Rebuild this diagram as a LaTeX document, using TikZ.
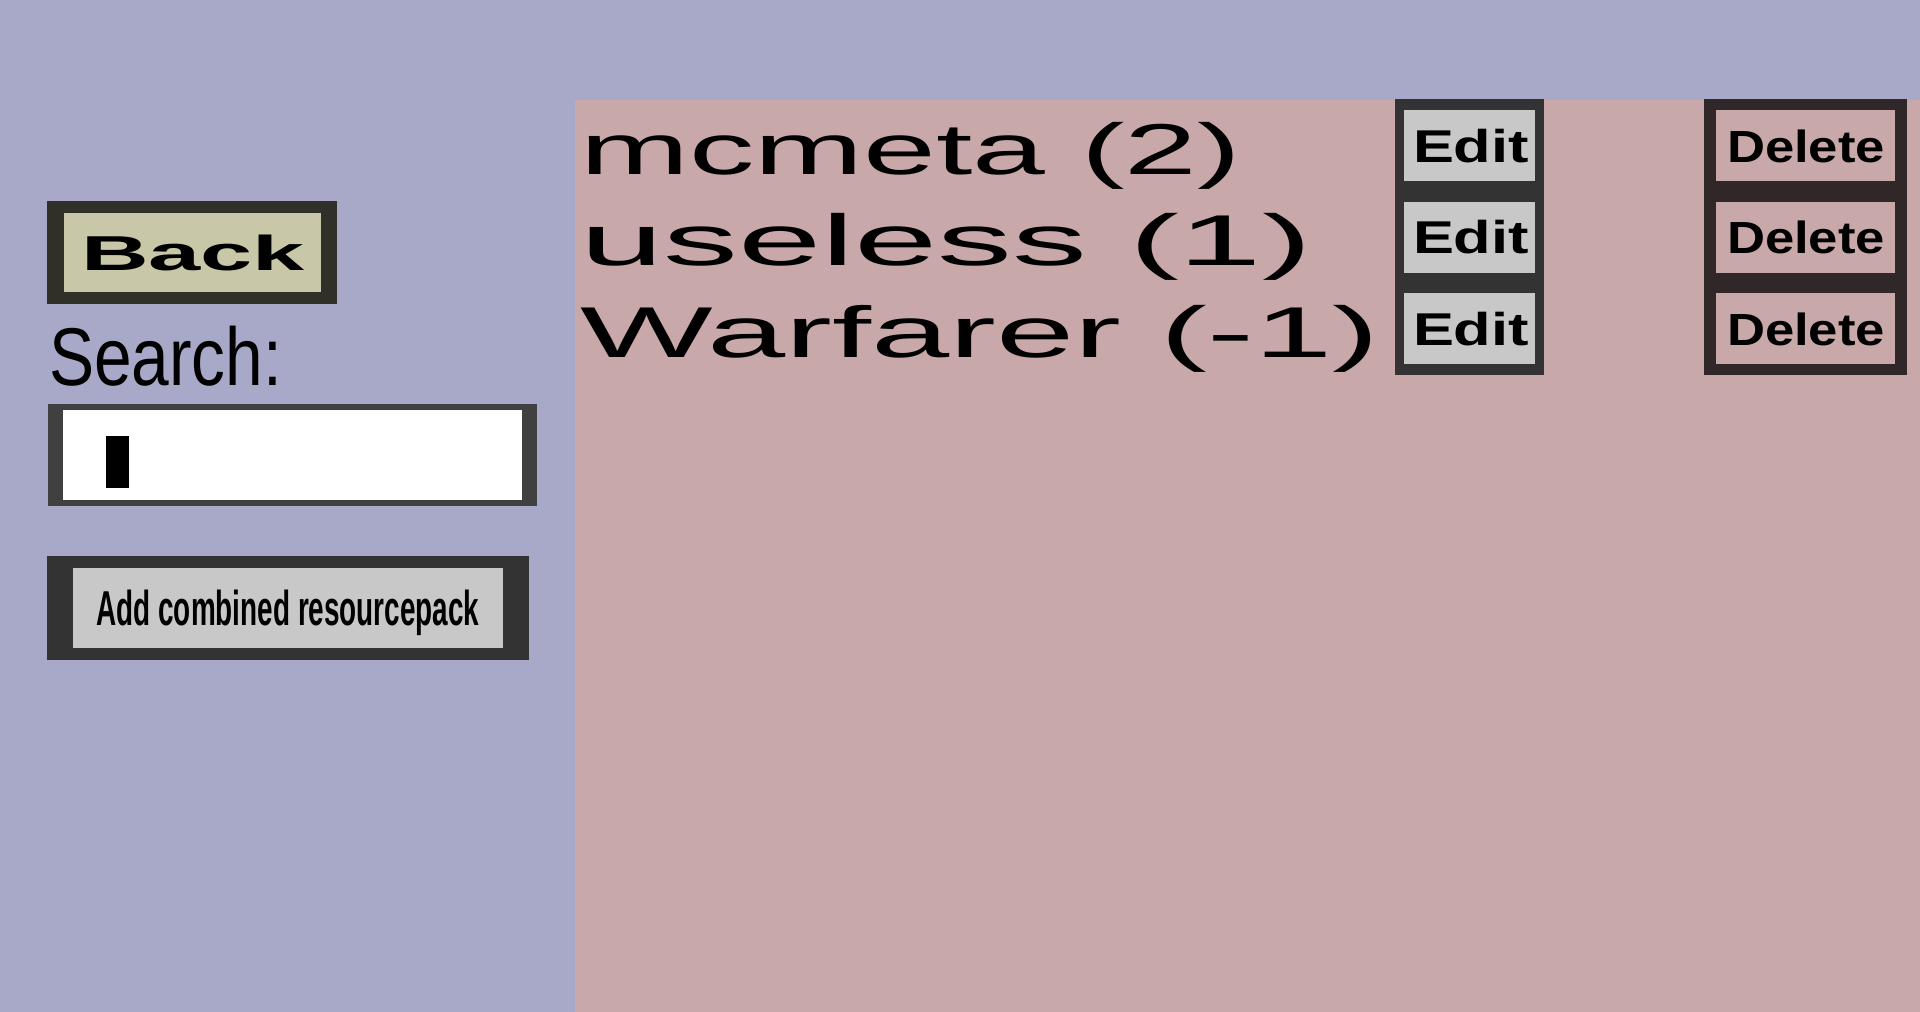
\documentclass[tikz,border=0pt]{standalone}
\usepackage{fontspec}
\setmainfont{Liberation Sans}
\usepackage{tikz}
\definecolor{bgpurple}{RGB}{168,168,200}
\definecolor{panelpink}{RGB}{200,168,168}
\definecolor{backfill}{RGB}{200,200,168}
\definecolor{backedge}{RGB}{48,48,40}
\definecolor{greyfill}{RGB}{200,200,200}
\definecolor{editedge}{RGB}{51,51,51}
\definecolor{deledge}{RGB}{48,40,40}
\definecolor{boxedge}{RGB}{64,64,64}
\newcommand{\wtext}[3]{{\fontsize{#1}{#1}\selectfont\resizebox{#2pt}{\height}{#3}}}

\begin{document}
\begin{tikzpicture}[x=1pt, y=-1pt, txt/.style={inner sep=0pt, anchor=base west}, btn/.style={inner sep=0pt, anchor=base}]
\useasboundingbox (0,0) rectangle (1920,1012);
\fill[bgpurple] (0,0) rectangle (1920,1012);
\fill[panelpink] (575,100) rectangle (1920,1012);
\fill[backedge] (47,201) rectangle (337,304);
\fill[backfill] (64,213) rectangle (321,292);
\node[btn] (back) at (193,270) {\wtext{49}{224}{\bfseries Back}};
\node[txt] (search) at (49,385) {\wtext{82}{233}{Search:}};
\fill[boxedge] (48,404) rectangle (537,506);
\fill[white] (63,410) rectangle (522,500);
\fill[black] (106,436) rectangle (129,488);
\fill[editedge] (47,556) rectangle (529,660);
\fill[greyfill] (73,568) rectangle (503,648);
\node[btn] (add) at (288,625) {\wtext{49}{383}{\bfseries Add combined resourcepack}};
\node[txt] (mcmeta) at (580,174) {\wtext{72}{661}{mcmeta (2)}};
\node[txt] (useless) at (580,265) {\wtext{72}{732}{useless (1)}};
\node[txt] (warfarer) at (580,357) {\wtext{72}{799}{Warfarer (-1)}};
\fill[editedge] (1395,99) rectangle (1544,375);
\fill[greyfill] (1404,110) rectangle (1535,181);
\fill[greyfill] (1404,202) rectangle (1535,273);
\fill[greyfill] (1404,293) rectangle (1535,364);
\node[btn] (edit1) at (1471,162) {\wtext{46}{116}{\bfseries Edit}};
\node[btn] (edit2) at (1471,253) {\wtext{46}{116}{\bfseries Edit}};
\node[btn] (edit3) at (1471,345) {\wtext{46}{116}{\bfseries Edit}};
\fill[deledge] (1704,99) rectangle (1907,375);
\fill[panelpink] (1716,110) rectangle (1895,181);
\fill[panelpink] (1716,202) rectangle (1895,273);
\fill[panelpink] (1716,293) rectangle (1895,364);
\node[btn] (delete1) at (1806,162) {\wtext{45}{158}{\bfseries Delete}};
\node[btn] (delete2) at (1806,253) {\wtext{45}{158}{\bfseries Delete}};
\node[btn] (delete3) at (1806,345) {\wtext{45}{158}{\bfseries Delete}};
\end{tikzpicture}
\end{document}
